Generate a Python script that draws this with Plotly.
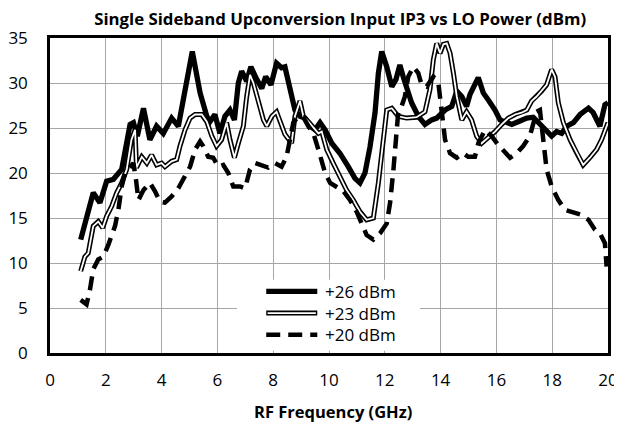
import plotly.graph_objects as go

# ---- data ----
x26 = [1.1,1.55,1.79,2.03,2.27,2.57,2.87,2.99,3.13,3.35,
       3.58,3.82,4.06,4.36,4.6,4.78,5.1,5.38,5.62,5.73,
       5.91,6.09,6.27,6.45,6.61,6.75,6.87,7.05,7.2,7.41,
       7.59,7.73,7.92,8.12,8.3,8.42,8.6,8.78,8.96,9.14,
       9.32,9.5,9.68,9.86,10.1,10.39,10.69,10.93,11.11,11.29,
       11.47,11.65,11.77,11.89,12.07,12.25,12.4,12.54,12.66,12.81,
       12.96,13.2,13.44,13.68,13.86,14.16,14.4,14.58,14.76,14.93,
       15.05,15.35,15.53,15.71,15.95,16.13,16.31,16.55,16.78,17.09,
       17.32,17.56,17.8,17.98,18.16,18.34,18.52,18.76,19.0,19.3,
       19.47,19.71,19.89,20.0]
y26 = [12.6,17.8,16.7,19.1,19.3,20.4,25.4,25.6,24.1,27.2,
       23.7,25.2,24.4,26.1,25.2,28.5,33.5,28.9,26.3,25.7,
       26.5,24.4,26.3,27.0,25.9,30.0,31.3,30.2,31.8,30.4,
       29.4,30.7,29.8,32.2,31.7,31.8,29.3,27.0,26.3,26.1,
       25.2,24.8,25.6,24.8,23.3,22.2,20.7,19.4,18.9,20.0,
       22.9,26.7,31.1,33.5,31.8,29.6,30.4,32.0,30.7,29.4,
       27.8,26.3,25.4,25.9,26.1,27.0,27.4,29.1,28.5,27.4,
       28.7,30.6,28.9,28.1,27.0,25.9,25.7,25.4,25.7,26.1,
       26.2,25.4,24.8,24.1,24.6,24.4,25.2,25.6,26.5,27.2,
       26.7,25.2,27.6,27.8]

x23 = [1.1,1.25,1.37,1.55,1.73,1.89,2.03,2.21,2.39,2.57,
       2.75,2.92,3.05,3.1,3.29,3.47,3.64,3.82,4.0,4.12,
       4.36,4.54,4.66,4.84,5.02,5.2,5.44,5.62,5.8,5.97,
       6.15,6.33,6.45,6.61,6.75,6.93,7.05,7.17,7.29,7.47,
       7.65,7.77,7.95,8.12,8.3,8.42,8.66,8.78,8.96,9.08,
       9.26,9.44,9.62,9.74,9.92,10.15,10.39,10.63,10.87,11.11,
       11.35,11.59,11.77,11.95,12.07,12.25,12.48,12.78,13.14,13.44,
       13.62,13.74,13.86,13.98,14.1,14.22,14.34,14.46,14.58,14.76,
       14.93,15.11,15.29,15.47,15.71,15.95,16.19,16.43,16.67,16.9,
       17.09,17.26,17.44,17.62,17.8,17.98,18.1,18.22,18.4,18.64,
       18.88,19.11,19.35,19.59,19.77,19.91,20.0]
y23 = [9.1,10.7,11.1,14.1,14.6,13.9,15.2,16.3,17.8,18.9,
       20.4,23.7,24.8,20.6,21.8,21.1,22.0,20.9,21.1,20.7,
       21.3,21.5,23.0,24.8,26.1,26.5,26.5,25.7,24.1,23.0,
       23.7,25.6,23.7,21.7,23.3,25.2,28.5,30.9,30.0,27.8,
       25.9,25.2,26.3,26.8,25.2,24.3,23.3,26.3,28.0,26.3,
       25.7,25.0,24.4,24.6,22.6,21.1,19.6,18.1,17.0,15.7,
       14.8,15.0,18.9,24.1,27.0,27.2,26.3,26.1,26.2,26.8,
       29.3,32.6,34.4,33.3,34.3,34.4,33.3,31.1,28.5,25.9,
       26.8,25.9,24.1,23.3,23.9,24.6,25.4,26.1,26.5,26.7,
       27.0,28.0,28.5,29.1,29.8,31.5,30.7,27.8,25.6,23.7,
       22.2,20.9,21.7,22.6,23.7,25.0,25.6]

x20 = [1.1,1.31,1.43,1.55,1.73,1.91,2.09,2.33,2.45,2.57,
       2.69,2.87,2.99,3.08,3.17,3.35,3.58,3.76,3.94,4.12,
       4.36,4.6,4.84,5.02,5.2,5.38,5.49,5.67,5.85,6.03,
       6.21,6.39,6.57,6.81,6.99,7.17,7.35,7.59,7.82,8.06,
       8.3,8.48,8.6,8.72,8.9,9.08,9.26,9.44,9.62,9.8,
       9.86,10.04,10.28,10.51,10.75,10.99,11.17,11.35,11.59,11.83,
       12.07,12.19,12.31,12.4,12.48,12.6,12.72,12.84,13.02,13.2,
       13.32,13.5,13.74,13.92,14.04,14.16,14.34,14.58,14.81,14.99,
       15.23,15.35,15.59,15.83,16.07,16.31,16.49,16.73,16.96,
       17.2,17.32,17.44,17.56,17.68,17.8,17.98,18.22,18.46,18.7,
       19.0,19.3,19.53,19.71,19.89,19.95]
y20 = [5.9,5.4,7.0,9.3,10.4,10.7,12.0,14.1,15.9,18.5,
       20.0,20.7,21.1,19.3,17.0,18.1,18.9,18.0,16.8,16.7,
       17.4,18.3,19.6,20.7,22.6,23.5,23.0,21.8,21.7,20.7,
       20.9,20.0,18.5,18.5,18.3,20.4,21.1,20.9,20.6,21.1,
       20.7,21.8,23.7,25.6,26.3,26.2,25.2,24.4,22.6,20.7,
       20.0,18.9,18.5,18.0,17.0,15.7,14.4,13.1,12.6,13.3,
       14.4,16.7,20.4,24.1,26.7,27.4,28.5,30.7,31.8,31.1,
       29.8,29.6,30.7,30.0,26.3,23.7,22.2,21.7,22.2,21.8,
       21.8,23.3,24.8,24.1,23.1,22.2,21.7,22.2,23.0,
       24.1,25.6,26.8,27.0,23.7,20.4,18.5,17.0,15.9,15.7,
       15.4,14.8,13.7,13.3,12.2,9.6]

series_names = ["+26 dBm", "+23 dBm", "+20 dBm"]
x_ticks = [0, 2, 4, 6, 8, 10, 12, 14, 16, 18, 20]
y_ticks = [0, 5, 10, 15, 20, 25, 30, 35]

FONT = "Open Sans"
DASH = "14px,8px"

# the page body adds an 8px offset; size the figure so that it fills the window
W, H = 614, 419

fig = go.Figure()
fig.add_trace(go.Scatter(x=x26, y=y26, mode="lines", name=series_names[0],
                         line=dict(color="black", width=5.3), showlegend=False))
fig.add_trace(go.Scatter(x=x23, y=y23, mode="lines", name=series_names[1],
                         line=dict(color="black", width=5), showlegend=False))
fig.add_trace(go.Scatter(x=x23, y=y23, mode="lines", name=series_names[1],
                         line=dict(color="white", width=1.8), showlegend=False))
fig.add_trace(go.Scatter(x=x20, y=y20, mode="lines", name=series_names[2],
                         line=dict(color="black", width=4.5, dash=DASH), showlegend=False))

# manual legend (inside plot, white box)
shapes = [dict(type="rect", xref="x", yref="y", x0=6.7, x1=13.26, y0=0.25, y1=8.14,
               fillcolor="white", line=dict(width=0), layer="above")]
leg_y = [6.84, 4.44, 2.03]
shapes.append(dict(type="line", xref="x", yref="y", x0=7.75, x1=9.58, y0=leg_y[0], y1=leg_y[0],
                   line=dict(color="black", width=5.3), layer="above"))
shapes.append(dict(type="line", xref="x", yref="y", x0=7.75, x1=9.58, y0=leg_y[1], y1=leg_y[1],
                   line=dict(color="black", width=5), layer="above"))
shapes.append(dict(type="line", xref="x", yref="y", x0=7.8, x1=9.53, y0=leg_y[1], y1=leg_y[1],
                   line=dict(color="white", width=1.8), layer="above"))
shapes.append(dict(type="line", xref="x", yref="y", x0=7.75, x1=9.58, y0=leg_y[2], y1=leg_y[2],
                   line=dict(color="black", width=4.5, dash=DASH), layer="above"))

annotations = []
for name, yy in zip(series_names, leg_y):
    annotations.append(dict(x=9.78, y=yy, xref="x", yref="y", text=name, showarrow=False,
                            xanchor="left", yanchor="middle",
                            font=dict(family=FONT, size=17, color="black")))
annotations.append(dict(x=0.507, y=-0.187, xref="paper", yref="paper",
                        text="<b>RF Frequency (GHz)</b>", showarrow=False,
                        xanchor="center", yanchor="middle",
                        font=dict(family=FONT, size=16.5, color="black")))

fig.update_layout(
    width=W, height=H,
    margin=dict(l=42, r=14, t=30, b=74, autoexpand=False),
    paper_bgcolor="white", plot_bgcolor="white",
    title=dict(text="<b>Single Sideband Upconversion Input IP3 vs LO Power (dBm)</b>",
               x=0.52, xref="paper", xanchor="center",
               y=1 - 11 / H, yref="container", yanchor="middle",
               font=dict(family=FONT, size=16.8, color="black")),
    shapes=shapes, annotations=annotations,
    showlegend=False,
)
fig.update_xaxes(range=[0, 20], tickvals=x_ticks, showgrid=True, gridcolor="#a6a6a6", gridwidth=1.3,
                 showline=True, linecolor="black", linewidth=2.5, mirror=True, zeroline=False,
                 ticks="", ticklabelstandoff=10, automargin=False,
                 tickfont=dict(family=FONT, size=17, color="black"))
fig.update_yaxes(range=[0, 35], tickvals=y_ticks, showgrid=True, gridcolor="#a6a6a6", gridwidth=1.3,
                 showline=True, linecolor="black", linewidth=2.5, mirror=True, zeroline=False,
                 ticks="", ticklabelstandoff=16, automargin=False,
                 tickfont=dict(family=FONT, size=17, color="black"))

fig.write_html("out.html")
